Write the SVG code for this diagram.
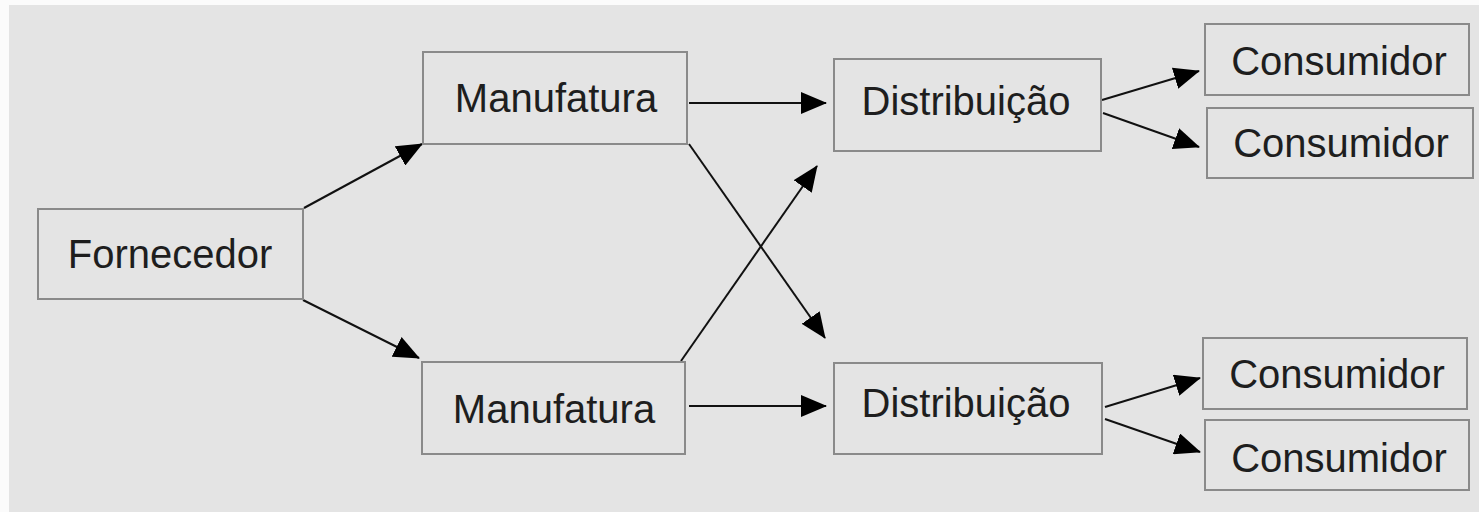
<svg xmlns="http://www.w3.org/2000/svg" width="1479" height="512" viewBox="0 0 1479 512">
<style>
.box{fill:#e4e4e4;stroke:#8a8a8a;stroke-width:2}
.lbl{font-family:"Liberation Sans",Arial,sans-serif;font-size:40px;fill:#1e1e1e;text-anchor:middle}
.edge{stroke:#111;stroke-width:2;fill:none;marker-end:url(#ah)}
</style>
<defs>
<marker id="ah" markerUnits="userSpaceOnUse" markerWidth="26" markerHeight="22" refX="25" refY="11" orient="auto">
<path d="M0,0 L26,11 L0,22 z" fill="#000"/>
</marker>
</defs>
<rect x="0" y="0" width="1479" height="512" fill="#fbfbfb"/>
<rect x="9" y="5" width="1470" height="507" fill="#e4e4e4"/>
<g id="connectors">
<line class="edge" x1="304" y1="208" x2="422" y2="144"/>
<line class="edge" x1="303" y1="300" x2="419" y2="358"/>
<line class="edge" x1="689" y1="103" x2="826" y2="103"/>
<line class="edge" x1="689" y1="144" x2="825" y2="338"/>
<line class="edge" x1="681" y1="361" x2="817" y2="166"/>
<line class="edge" x1="689" y1="406" x2="826" y2="406"/>
<line class="edge" x1="1102" y1="100" x2="1199" y2="71"/>
<line class="edge" x1="1103" y1="113" x2="1199" y2="147"/>
<line class="edge" x1="1105" y1="407" x2="1200" y2="378"/>
<line class="edge" x1="1105" y1="419" x2="1200" y2="452"/>
</g>
<g id="fornecedor"><rect class="box" x="38" y="209" width="265" height="90"/><text class="lbl" x="170" y="268">Fornecedor</text></g>
<g id="manufatura1"><rect class="box" x="423" y="52" width="264" height="92"/><text class="lbl" x="556" y="112">Manufatura</text></g>
<g id="manufatura2"><rect class="box" x="422" y="362" width="263" height="92"/><text class="lbl" x="554" y="423">Manufatura</text></g>
<g id="distribuicao1"><rect class="box" x="834" y="59" width="267" height="92"/><text class="lbl" x="966" y="115">Distribuição</text></g>
<g id="distribuicao2"><rect class="box" x="834" y="363" width="268" height="91"/><text class="lbl" x="966" y="417">Distribuição</text></g>
<g id="consumidor1"><rect class="box" x="1205" y="24" width="264" height="71"/><text class="lbl" x="1339" y="75">Consumidor</text></g>
<g id="consumidor2"><rect class="box" x="1207" y="108" width="266" height="70"/><text class="lbl" x="1341" y="157">Consumidor</text></g>
<g id="consumidor3"><rect class="box" x="1203" y="338" width="264" height="71"/><text class="lbl" x="1337" y="388">Consumidor</text></g>
<g id="consumidor4"><rect class="box" x="1205" y="420" width="264" height="70"/><text class="lbl" x="1339" y="472">Consumidor</text></g>
</svg>
